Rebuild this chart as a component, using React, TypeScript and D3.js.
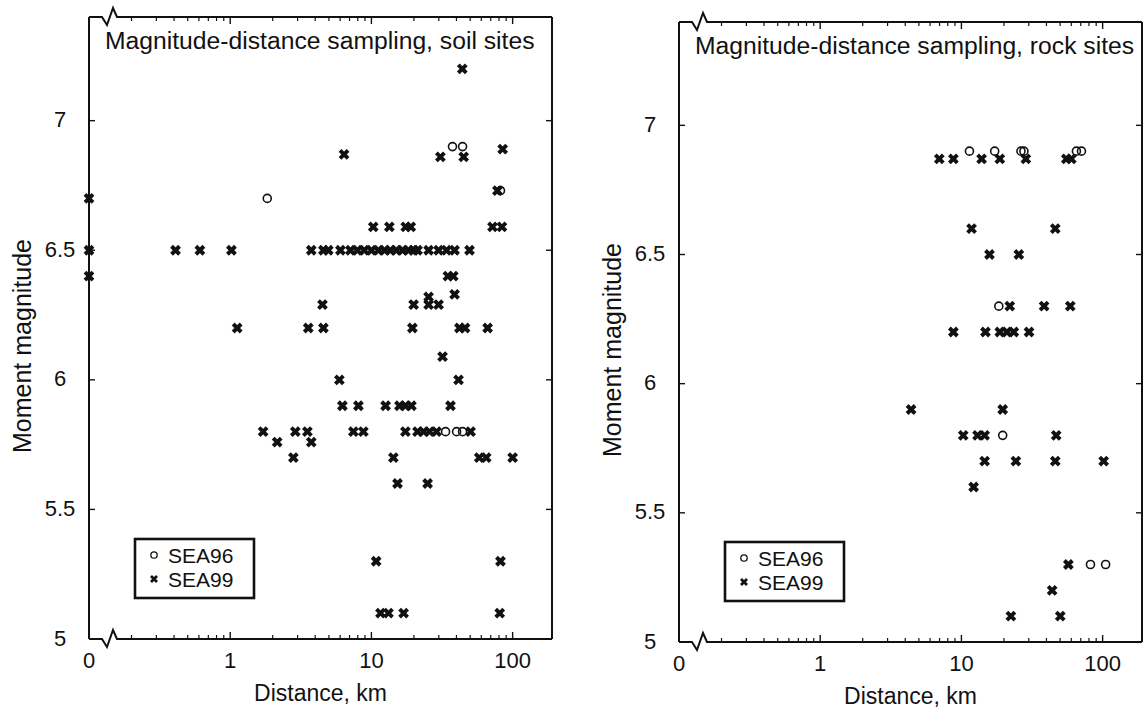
import React from 'react';
import * as d3 from 'd3';

// ---------- data ----------
const xMajorTicks = [1, 10, 100];
const xTickLabels = ['1', '10', '100'];
const xMinorTicks = [0.2, 0.3, 0.4, 0.5, 0.6, 0.7, 0.8, 0.9, 2, 3, 4, 5, 6, 7, 8, 9, 20, 30, 40, 50, 60, 70, 80, 90];
const xZeroLabel = '0';
const yTicks = [5, 5.5, 6, 6.5, 7];
const yTickLabels = ['5', '5.5', '6', '6.5', '7'];
const seriesNames = ['SEA96', 'SEA99'];
const xTitle = 'Distance, km';
const yTitle = 'Moment magnitude';
const soilTitle = 'Magnitude-distance sampling, soil sites';
const rockTitle = 'Magnitude-distance sampling, rock sites';

// [distance km, moment magnitude]
const soilSea96: [number, number][] = [
  [1.83, 6.7], [37.5, 6.9], [44.2, 6.9], [82, 6.73],
  [33.5, 5.8], [40.1, 5.8], [44.2, 5.8],
];
const soilSea99: [number, number][] = [
  [0, 6.7], [0, 6.5], [0, 6.4],
  [44, 7.2],
  [6.4, 6.87], [30.8, 6.86], [45, 6.86], [85, 6.89],
  [78, 6.73],
  [10.3, 6.59], [13.4, 6.59], [17.5, 6.59], [19, 6.59], [72, 6.59], [84, 6.59],
  [0.41, 6.5], [0.61, 6.5], [1.02, 6.5], [3.75, 6.5], [4.57, 6.5], [4.95, 6.5], [6.03, 6.5],
  [7.1, 6.5], [7.95, 6.5], [8.9, 6.5], [10, 6.5], [11.2, 6.5], [12.4, 6.5], [13.6, 6.5],
  [15, 6.5], [16.6, 6.5], [18.3, 6.5], [19.9, 6.5], [21.2, 6.5], [25.4, 6.5], [29.9, 6.5],
  [34, 6.5], [38.8, 6.5], [49.5, 6.5],
  [34.8, 6.4], [38, 6.4],
  [25.4, 6.32], [38.8, 6.33],
  [4.5, 6.29], [19.9, 6.29], [25.4, 6.29], [29.9, 6.29],
  [1.12, 6.2], [3.57, 6.2], [4.57, 6.2], [19.5, 6.2], [42, 6.2], [46, 6.2], [66.5, 6.2],
  [31.9, 6.09],
  [5.93, 6.0], [41.4, 6.0],
  [6.23, 5.9], [8.09, 5.9], [12.6, 5.9], [15.8, 5.9], [17.4, 5.9], [19.2, 5.9], [36.3, 5.9],
  [1.71, 5.8], [2.89, 5.8], [3.52, 5.8], [7.45, 5.8], [8.77, 5.8], [17.4, 5.8], [21.2, 5.8],
  [23.4, 5.8], [25.8, 5.8], [28.9, 5.8], [50.4, 5.8],
  [2.15, 5.76], [3.75, 5.76],
  [2.8, 5.7], [14.3, 5.7], [58, 5.7], [65, 5.7], [100, 5.7],
  [15.3, 5.6], [25, 5.6],
  [10.8, 5.3], [82, 5.3],
  [11.6, 5.1], [13.2, 5.1], [16.9, 5.1], [81, 5.1],
];

const rockSea96: [number, number][] = [
  [11.4, 6.9], [17.2, 6.9], [26.4, 6.9], [27.7, 6.9], [65.2, 6.9], [70.8, 6.9],
  [18.4, 6.3], [19.6, 5.8], [82, 5.3], [105, 5.3],
];
const rockSea99: [number, number][] = [
  [6.97, 6.87], [8.77, 6.87], [13.9, 6.87], [18.7, 6.87], [28.6, 6.87], [55.3, 6.87], [60, 6.87],
  [11.8, 6.6], [46.2, 6.6],
  [15.8, 6.5], [25.5, 6.5],
  [22, 6.3], [38.5, 6.3], [59, 6.3],
  [8.77, 6.2], [14.8, 6.2], [18.7, 6.2], [21, 6.2], [23.5, 6.2], [30.1, 6.2],
  [4.4, 5.9], [19.6, 5.9],
  [10.3, 5.8], [13, 5.8], [14.6, 5.8], [46.9, 5.8],
  [14.6, 5.7], [24.3, 5.7], [46.2, 5.7], [101.7, 5.7],
  [12.2, 5.6],
  [57.2, 5.3],
  [43.9, 5.2],
  [22.4, 5.1], [50.1, 5.1],
];

// ---------- drawing ----------
const FONT = "'Liberation Sans', Arial, Helvetica, sans-serif";
const INK = '#111';

function XMark({ cx, cy, s = 4, w = 3.9 }: { cx: number; cy: number; s?: number; w?: number }) {
  return (
    <path
      d={`M${cx - s},${cy - s}L${cx + s},${cy + s}M${cx - s},${cy + s}L${cx + s},${cy - s}`}
      stroke={INK}
      strokeWidth={w}
      fill="none"
    />
  );
}

function OMark({ cx, cy, r = 4, w = 1.6 }: { cx: number; cy: number; r?: number; w?: number }) {
  return <circle cx={cx} cy={cy} r={r} fill="none" stroke={INK} strokeWidth={w} />;
}

type PanelProps = {
  left: number; right: number; top: number; bottom: number;
  title: string;
  sea96: [number, number][];
  sea99: [number, number][];
};

function Panel({ left, right, top, bottom, title, sea96, sea99 }: PanelProps) {
  const x = d3.scaleLog().domain([0.1, 190]).range([left, right]);
  const y = d3.scaleLinear().domain([5, 7.4]).range([bottom, top]);
  const px = (d: number) => x(Math.max(d, 0.1));

  const zig = (yy: number, dir: number) => {
    const a = left + 13;
    return `M${left},${yy}L${a},${yy}L${a + 5},${yy + 8 * dir}L${a + 11},${yy - 9 * dir}L${a + 15},${yy}L${right},${yy}`;
  };

  const midY = (top + bottom) / 2;
  const lgX = left + 46;
  const lgY = bottom - 100;

  return (
    <g>
      {/* frame */}
      <path d={zig(bottom, 1)} fill="none" stroke={INK} strokeWidth={2} />
      <path d={zig(top, 1)} fill="none" stroke={INK} strokeWidth={2} />
      <line x1={left} x2={left} y1={top} y2={bottom} stroke={INK} strokeWidth={2} />
      <line x1={right} x2={right} y1={top} y2={bottom} stroke={INK} strokeWidth={2} />

      {/* x ticks bottom and top */}
      {xMinorTicks.map((t) => (
        <g key={'mn' + t}>
          <line x1={x(t)} x2={x(t)} y1={bottom} y2={bottom - 4} stroke={INK} strokeWidth={1.2} />
          <line x1={x(t)} x2={x(t)} y1={top} y2={top + 4} stroke={INK} strokeWidth={1.2} />
        </g>
      ))}
      {xMajorTicks.map((t, i) => (
        <g key={'mj' + t}>
          <line x1={x(t)} x2={x(t)} y1={bottom} y2={bottom - 7} stroke={INK} strokeWidth={1.4} />
          <line x1={x(t)} x2={x(t)} y1={top} y2={top + 7} stroke={INK} strokeWidth={1.4} />
          <text x={x(t)} y={bottom + 29} fontSize={22} textAnchor="middle" fontFamily={FONT} fill={INK}>
            {xTickLabels[i]}
          </text>
        </g>
      ))}
      <text x={x(0.1)} y={bottom + 29} fontSize={22} textAnchor="middle" fontFamily={FONT} fill={INK}>
        {xZeroLabel}
      </text>

      {/* y ticks */}
      {yTicks.map((t, i) => (
        <g key={'y' + t}>
          <line x1={left} x2={left + 6} y1={y(t)} y2={y(t)} stroke={INK} strokeWidth={1.4} />
          <line x1={right} x2={right - 6} y1={y(t)} y2={y(t)} stroke={INK} strokeWidth={1.4} />
          <text x={left - 29} y={y(t) + 6.5} fontSize={22} textAnchor="middle" fontFamily={FONT} fill={INK}>
            {yTickLabels[i]}
          </text>
        </g>
      ))}

      {/* axis titles */}
      <text x={(left + right) / 2} y={bottom + 62} fontSize={23} textAnchor="middle" fontFamily={FONT} fill={INK}>
        {xTitle}
      </text>
      <text
        transform={`translate(${left - 58},${midY + 18}) rotate(-90)`}
        fontSize={25}
        textAnchor="middle"
        fontFamily={FONT}
        fill={INK}
      >
        {yTitle}
      </text>

      {/* panel title */}
      <text x={left + 16} y={top + 32} fontSize={24.7} fontFamily={FONT} fill={INK}>
        {title}
      </text>

      {/* data */}
      {sea99.map(([d, m], i) => (
        <XMark key={'x' + i} cx={px(d)} cy={y(m)} />
      ))}
      {sea96.map(([d, m], i) => (
        <OMark key={'o' + i} cx={px(d)} cy={y(m)} />
      ))}

      {/* legend */}
      <rect x={lgX} y={lgY} width={119} height={59} fill="#fff" stroke={INK} strokeWidth={2.6} />
      <OMark cx={lgX + 19} cy={lgY + 16} r={3.2} w={1.3} />
      <text x={lgX + 33} y={lgY + 24} fontSize={21} fontFamily={FONT} fill={INK}>
        {seriesNames[0]}
      </text>
      <XMark cx={lgX + 19} cy={lgY + 40} s={3} w={2.8} />
      <text x={lgX + 33} y={lgY + 48} fontSize={21} fontFamily={FONT} fill={INK}>
        {seriesNames[1]}
      </text>
    </g>
  );
}

export default function App() {
  return (
    <svg
      width={1144}
      height={711}
      viewBox="0 0 1144 711"
      style={{ position: 'absolute', left: 0, top: 0, background: '#fff' }}
    >
      <rect x={0} y={0} width={1144} height={711} fill="#fff" />
      <Panel left={89} right={552} top={17} bottom={639} title={soilTitle} sea96={soilSea96} sea99={soilSea99} />
      <Panel left={679} right={1142} top={22} bottom={642} title={rockTitle} sea96={rockSea96} sea99={rockSea99} />
    </svg>
  );
}
